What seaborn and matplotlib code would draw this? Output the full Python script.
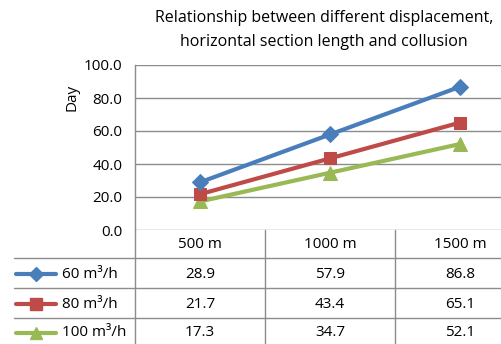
import matplotlib
matplotlib.use("Agg")
import matplotlib.pyplot as plt
from matplotlib.lines import Line2D
from matplotlib.transforms import blended_transform_factory
import seaborn as sns
import pandas as pd

# Data
lengths = ["500 m", "1000 m", "1500 m"]
series_names = ["60 m³/h", "80 m³/h", "100 m³/h"]
flow_60 = [28.9, 57.9, 86.8]
flow_80 = [21.7, 43.4, 65.1]
flow_100 = [17.3, 34.7, 52.1]
y_ticks = [0, 20, 40, 60, 80, 100]

colors = ["#4A7EBB", "#BE4B48", "#98B954"]
markers = ["D", "s", "^"]
msizes = [8, 9, 10]

sns.set_theme(style="white")
plt.rcParams["font.family"] = ["Open Sans", "DejaVu Sans"]

W, H = 502, 344
fig = plt.figure(figsize=(W / 100, H / 100), dpi=100)


def fx(px):
    return px / W


def fy(py):
    return 1 - py / H


x0, x1, ytop, ybot = 135, 502, 65, 230
ax = fig.add_axes([fx(x0), fy(ybot), fx(x1) - fx(x0), fy(ytop) - fy(ybot)])

values = [flow_60, flow_80, flow_100]
df = pd.DataFrame({
    "x": [i for _ in series_names for i in range(len(lengths))],
    "value": [v for vals in values for v in vals],
    "series": [s for s in series_names for _ in lengths],
})

grid_c = "#8c8c8c"
for i, (name, col, mk, ms) in enumerate(zip(series_names, colors, markers, msizes)):
    sub = df[df["series"] == name]
    sns.lineplot(data=sub, x="x", y="value", ax=ax, color=col, linewidth=3.0,
                 marker=mk, markersize=ms, markeredgecolor=col,
                 markerfacecolor=col, legend=False, zorder=3 + (2 - i))

# x range: category centers every 130 px, first at 200 px
left_val = (x0 - 200) / 130
right_val = (x1 - 200) / 130
ax.set_xlim(left_val, right_val)
ax.set_ylim(0, 100)
ax.set_yticks(y_ticks)
ax.set_yticklabels([f"{t:.1f}" for t in y_ticks], fontsize=11, color="black")
ax.tick_params(axis="y", length=0, pad=9)
ax.set_xticks([])
ax.set_xlabel("")
ax.set_ylabel("Day", fontsize=11, color="black")
ax.yaxis.set_label_coords((80 - x0) / (x1 - x0), (ybot - 97) / (ybot - ytop))
for t in y_ticks:
    ax.axhline(t, color=grid_c, linewidth=1.0, zorder=1)
for s in ["top", "right", "bottom"]:
    ax.spines[s].set_visible(False)
ax.spines["left"].set_color(grid_c)
ax.spines["left"].set_linewidth(1.0)

# Title
fig.text(fx(324), fy(18), "Relationship between different displacement,",
         ha="center", va="center", fontsize=11.5, color="black")
fig.text(fx(324), fy(42), "horizontal section length and collusion",
         ha="center", va="center", fontsize=11.5, color="black")

# Data table below the plot
trans = blended_transform_factory(ax.transData, fig.transFigure)
line_kw = dict(color=grid_c, linewidth=1.0)
for py in [258, 288, 318]:
    fig.add_artist(Line2D([fx(14), 1], [fy(py), fy(py)], transform=fig.transFigure, **line_kw))
for px in [135, 265, 395]:
    fig.add_artist(Line2D([fx(px), fx(px)], [fy(ybot), 0], transform=fig.transFigure, **line_kw))

header_y = 245
row_ys = [274, 304, 333]
for i, lab in enumerate(lengths):
    fig.text(i, fy(header_y), lab, transform=trans, ha="center", va="center",
             fontsize=11, color="black")

for r, (name, vals, col, mk, ms) in enumerate(zip(series_names, values, colors, markers, msizes)):
    yy = fy(row_ys[r])
    fig.add_artist(Line2D([fx(16), fx(56)], [yy, yy], transform=fig.transFigure,
                          color=col, linewidth=3.0))
    fig.add_artist(Line2D([fx(36)], [yy], transform=fig.transFigure, color=col,
                          marker=mk, markersize=ms - 1, markeredgecolor=col, markerfacecolor=col))
    fig.text(fx(62), yy, name, ha="left", va="center", fontsize=11, color="black")
    for i, v in enumerate(vals):
        fig.text(i, yy, f"{v:.1f}", transform=trans, ha="center", va="center",
                 fontsize=11, color="black")

fig.savefig("out.png", dpi=100)
